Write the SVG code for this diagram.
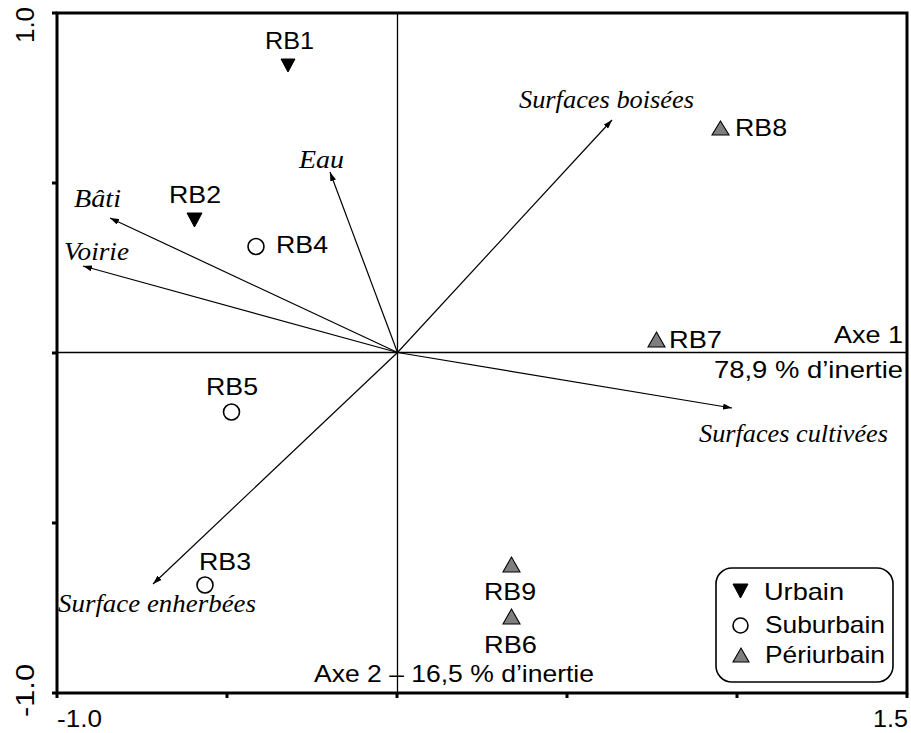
<svg xmlns="http://www.w3.org/2000/svg" width="911" height="733" viewBox="0 0 911 733">
<style>
.s{font-family:"Liberation Sans",Arial,sans-serif;font-size:24px;fill:#000}
.t{font-family:"Liberation Sans",Arial,sans-serif;font-size:26px;fill:#000}
.b{font-family:"Liberation Sans",Arial,sans-serif;font-size:24px;fill:#000}
.v{font-family:"Liberation Serif","Times New Roman",serif;font-size:25px;font-style:italic;fill:#000}
.arr{stroke:#000;stroke-width:1.2;fill:none;marker-end:url(#ah)}
.u{fill:#000;stroke:#000;stroke-width:1}
.c{fill:#fff;stroke:#000;stroke-width:1.6}
.p{fill:#7f7f7f;stroke:#000;stroke-width:1.1}
</style>
<defs>
<marker id="ah" markerUnits="userSpaceOnUse" markerWidth="10" markerHeight="6" refX="9" refY="3" orient="auto">
<path d="M0,0 L9,3 L0,6 z" fill="#000"/>
</marker>
</defs>
<rect width="911" height="733" fill="#fff"/>
<g id="frame">
<rect x="57" y="13" width="850" height="680" fill="none" stroke="#000" stroke-width="3"/>
<path d="M52,13H57M52,183H57M52,353H57M52,523H57M52,693H57M57,693V698M227,693V698M397,693V698M567,693V698M737,693V698M907,693V698" stroke="#000" stroke-width="3"/>
<line x1="57" y1="352.5" x2="907" y2="352.5" stroke="#000" stroke-width="1.3"/>
<line x1="397.5" y1="13" x2="397.5" y2="693" stroke="#000" stroke-width="1.3"/>
<text class="t" x="0" y="0" transform="translate(34,43) rotate(-90)" textLength="36" lengthAdjust="spacingAndGlyphs">1.0</text>
<text class="t" x="0" y="0" transform="translate(34,717) rotate(-90)" textLength="53" lengthAdjust="spacingAndGlyphs">-1.0</text>
<text class="b" x="57" y="727" textLength="45" lengthAdjust="spacingAndGlyphs">-1.0</text>
<text class="b" x="873" y="727" textLength="35" lengthAdjust="spacingAndGlyphs">1.5</text>
<text class="s" x="834" y="343" textLength="69" lengthAdjust="spacingAndGlyphs">Axe 1</text>
<text class="s" x="714" y="378" textLength="189" lengthAdjust="spacingAndGlyphs">78,9 % d’inertie</text>
<text class="s" x="314" y="682" textLength="280" lengthAdjust="spacingAndGlyphs">Axe 2 – 16,5 % d’inertie</text>
</g>
<g id="connectors">
<line class="arr" x1="397.5" y1="352.5" x2="612" y2="120"/>
<line class="arr" x1="397.5" y1="352.5" x2="330" y2="172"/>
<line class="arr" x1="397.5" y1="352.5" x2="110" y2="218"/>
<line class="arr" x1="397.5" y1="352.5" x2="83" y2="266"/>
<line class="arr" x1="397.5" y1="352.5" x2="153" y2="584"/>
<line class="arr" x1="397.5" y1="352.5" x2="732" y2="408"/>
</g>
<g id="variables">
<text id="v-boisees" class="v" x="519" y="108" textLength="175" lengthAdjust="spacingAndGlyphs">Surfaces boisées</text>
<text id="v-eau" class="v" x="299" y="168" textLength="45" lengthAdjust="spacingAndGlyphs">Eau</text>
<text id="v-bati" class="v" x="74" y="207" textLength="47" lengthAdjust="spacingAndGlyphs">Bâti</text>
<text id="v-voirie" class="v" x="64" y="260" textLength="65" lengthAdjust="spacingAndGlyphs">Voirie</text>
<text id="v-enherbees" class="v" x="58" y="612" textLength="198" lengthAdjust="spacingAndGlyphs">Surface enherbées</text>
<text id="v-cultivees" class="v" x="699" y="442" textLength="189" lengthAdjust="spacingAndGlyphs">Surfaces cultivées</text>
</g>
<g id="RB1"><polygon class="u" points="281,59 295,59 288,72"/><text class="s" x="265" y="49" textLength="49" lengthAdjust="spacingAndGlyphs">RB1</text></g>
<g id="RB2"><polygon class="u" points="187,213 202,213 194.5,227"/><text class="s" x="169" y="203" textLength="52" lengthAdjust="spacingAndGlyphs">RB2</text></g>
<g id="RB4"><circle class="c" cx="256" cy="246.5" r="8"/><text class="s" x="276" y="253" textLength="52" lengthAdjust="spacingAndGlyphs">RB4</text></g>
<g id="RB5"><circle class="c" cx="231.5" cy="412" r="8"/><text class="s" x="206" y="395" textLength="52" lengthAdjust="spacingAndGlyphs">RB5</text></g>
<g id="RB3"><circle class="c" cx="205" cy="585" r="8"/><text class="s" x="199" y="570" textLength="52" lengthAdjust="spacingAndGlyphs">RB3</text></g>
<g id="RB9"><polygon class="p" points="503,572 520,572 511.5,557"/><text class="s" x="484" y="600" textLength="52" lengthAdjust="spacingAndGlyphs">RB9</text></g>
<g id="RB6"><polygon class="p" points="503,624 520,624 511.5,609"/><text class="s" x="484" y="653" textLength="53" lengthAdjust="spacingAndGlyphs">RB6</text></g>
<g id="RB7"><polygon class="p" points="648,347 665,347 656.5,332"/><text class="s" x="669" y="348" textLength="53" lengthAdjust="spacingAndGlyphs">RB7</text></g>
<g id="RB8"><polygon class="p" points="712,135 729,135 720.5,121"/><text class="s" x="735" y="136" textLength="52" lengthAdjust="spacingAndGlyphs">RB8</text></g>
<g id="legend">
<rect x="716" y="568" width="177" height="114" rx="16" fill="#fff" stroke="#000" stroke-width="1.6"/>
<polygon class="u" points="733,584 748,584 740.5,598"/>
<text class="s" x="764" y="600" textLength="80" lengthAdjust="spacingAndGlyphs">Urbain</text>
<circle class="c" cx="740.5" cy="625.5" r="7.5"/>
<text class="s" x="765" y="633" textLength="120" lengthAdjust="spacingAndGlyphs">Suburbain</text>
<polygon class="p" points="733,662 749,662 741,648"/>
<text class="s" x="765" y="663" textLength="120" lengthAdjust="spacingAndGlyphs">Périurbain</text>
</g>
</svg>
